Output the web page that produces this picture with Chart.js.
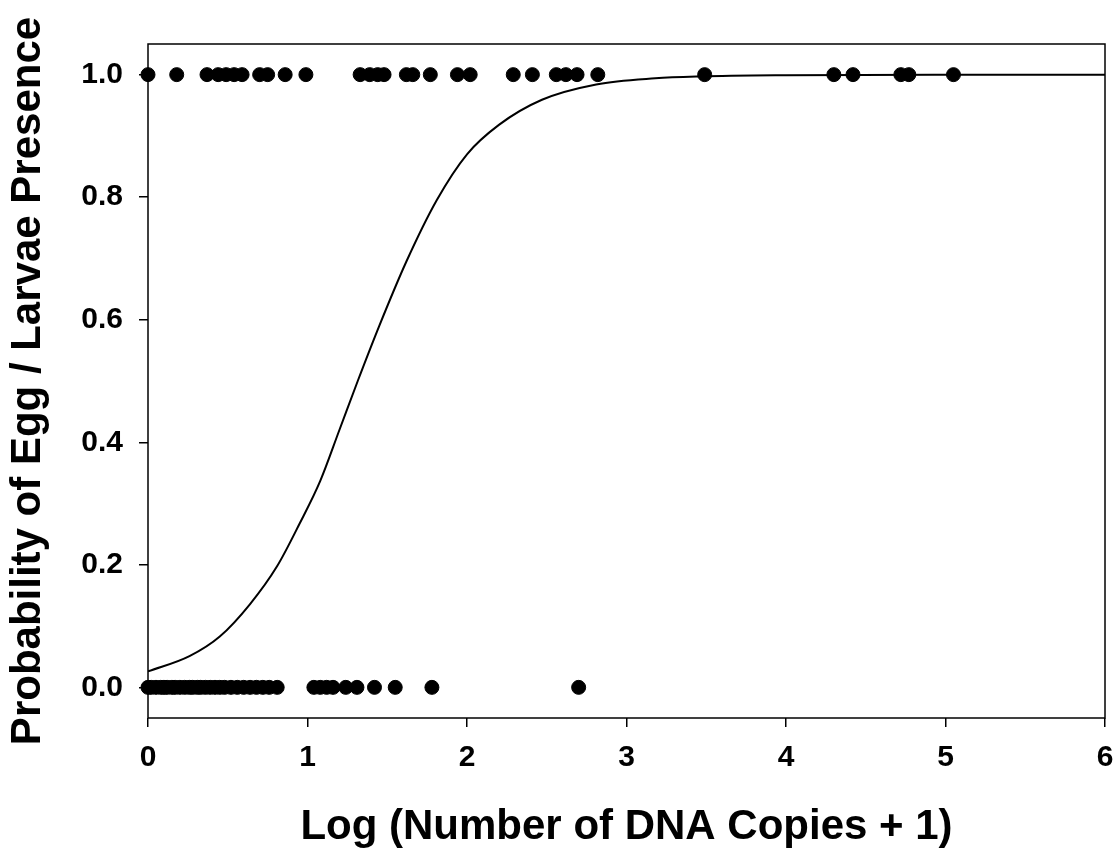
<!DOCTYPE html>
<html>
<head>
<meta charset="utf-8">
<script src="https://cdn.jsdelivr.net/npm/chart.js@4/dist/chart.umd.min.js"></script>
<style>
  body { margin: 0; background: #fff; }
  #wrap { width: 1116px; height: 850px; }
</style>
</head>
<body>
<div id="wrap"><canvas id="grafico" width="1116" height="850"></canvas></div>
<script>
// Samples where eggs/larvae were found (y = 1)
var presentX = [0, 0.18, 0.37, 0.44, 0.49, 0.54, 0.59, 0.70, 0.75, 0.86, 0.99,
  1.33, 1.39, 1.44, 1.48, 1.62, 1.66, 1.77, 1.94, 2.02,
  2.29, 2.41, 2.56, 2.62, 2.69, 2.82, 3.49, 4.30, 4.42, 4.72, 4.77, 5.05];
// Samples without eggs/larvae (y = 0)
var absentX = [0, 0.02, 0.05, 0.08, 0.10, 0.12, 0.15, 0.17, 0.20, 0.23, 0.26, 0.28,
  0.31, 0.33, 0.36, 0.39, 0.42, 0.45, 0.48, 0.52, 0.56, 0.60, 0.64, 0.68, 0.72,
  0.76, 0.81, 1.04, 1.08, 1.12, 1.16, 1.24, 1.31, 1.42, 1.55, 1.78, 2.70];
// Fitted logistic curve
var fitX = [0, 0.26, 0.45, 0.64, 0.81, 0.95, 1.08, 1.20, 1.315, 1.45, 1.62, 1.81,
  2.00, 2.20, 2.47, 2.81, 3.18, 3.46, 4.00, 5.00, 6.00];
var fitY = [0.026, 0.051, 0.083, 0.136, 0.198, 0.267, 0.337, 0.420, 0.500, 0.590,
  0.695, 0.795, 0.870, 0.918, 0.959, 0.984, 0.994, 0.997, 0.999, 1.000, 1.000];
var xTicks = [0, 1, 2, 3, 4, 5, 6];
var yTicks = [0, 0.2, 0.4, 0.6, 0.8, 1.0];

var fuente = "'Liberation Sans', Arial, sans-serif";

function toPoints(xs, y) {
    var arr = [];
    for (var i = 0; i < xs.length; i++) {
        arr.push({ x: xs[i], y: y });
    }
    return arr;
}

var dots = toPoints(presentX, 1).concat(toPoints(absentX, 0));
var curve = [];
for (var i = 0; i < fitX.length; i++) {
    curve.push({ x: fitX[i], y: fitY[i] });
}

// box round the plot area
var marco = {
    id: 'marco',
    beforeDatasetsDraw: function (chart) {
        var a = chart.chartArea;
        var ctx = chart.ctx;
        ctx.save();
        ctx.strokeStyle = '#000';
        ctx.lineWidth = 1.5;
        ctx.strokeRect(a.left, a.top, a.right - a.left, a.bottom - a.top);
        ctx.restore();
    }
};

var canvas = document.getElementById("grafico");
var graph = new Chart(canvas, {
    type: 'scatter',
    data: {
        datasets: [{
            data: dots,
            backgroundColor: '#000',
            borderColor: '#000',
            pointRadius: 7,
            borderWidth: 1,
            clip: false,
            order: 1
        }, {
            data: curve,
            showLine: true,
            borderColor: '#000',
            borderWidth: 2,
            pointRadius: 0,
            cubicInterpolationMode: 'monotone',
            order: 2
        }]
    },
    options: {
        responsive: false,
        animation: false,
        layout: { padding: { left: 0, right: 11, top: 44, bottom: 0 } },
        plugins: { legend: { display: false }, tooltip: { enabled: false } },
        scales: {
            x: {
                type: 'linear',
                min: 0,
                max: 6,
                afterBuildTicks: function (s) { s.ticks = xTicks.map(function (v) { return { value: v }; }); },
                afterFit: function (s) { s.height = 132; s.paddingLeft = 0; s.paddingRight = 0; },
                border: { display: false },
                grid: { drawOnChartArea: false, drawTicks: true, tickLength: 9, color: '#000', lineWidth: 1.5 },
                ticks: {
                    color: '#000',
                    padding: 16,
                    maxRotation: 0,
                    font: { family: fuente, size: 30, weight: 'bold', lineHeight: 1 },
                    callback: function (v) { return String(v); }
                },
                title: {
                    display: true,
                    text: 'Log (Number of DNA Copies + 1)',
                    color: '#000',
                    padding: { top: 0, bottom: 2 },
                    font: { family: fuente, size: 42, weight: 'bold', lineHeight: 1 }
                }
            },
            y: {
                min: -0.05,
                max: 1.05,
                afterBuildTicks: function (s) { s.ticks = yTicks.map(function (v) { return { value: v }; }); },
                afterFit: function (s) { s.width = 148; s.paddingTop = 0; s.paddingBottom = 0; },
                border: { display: false },
                grid: { drawOnChartArea: false, drawTicks: true, tickLength: 9, color: '#000', lineWidth: 1.5 },
                ticks: {
                    color: '#000',
                    padding: 16,
                    font: { family: fuente, size: 30, weight: 'bold', lineHeight: 1 },
                    callback: function (v) { return v.toFixed(1); }
                },
                title: {
                    display: true,
                    text: 'Probability of Egg / Larvae Presence',
                    color: '#000',
                    padding: { top: 7, bottom: 0 },
                    font: { family: fuente, size: 42, weight: 'bold', lineHeight: 1 }
                }
            }
        }
    },
    plugins: [marco]
});
</script>
</body>
</html>
